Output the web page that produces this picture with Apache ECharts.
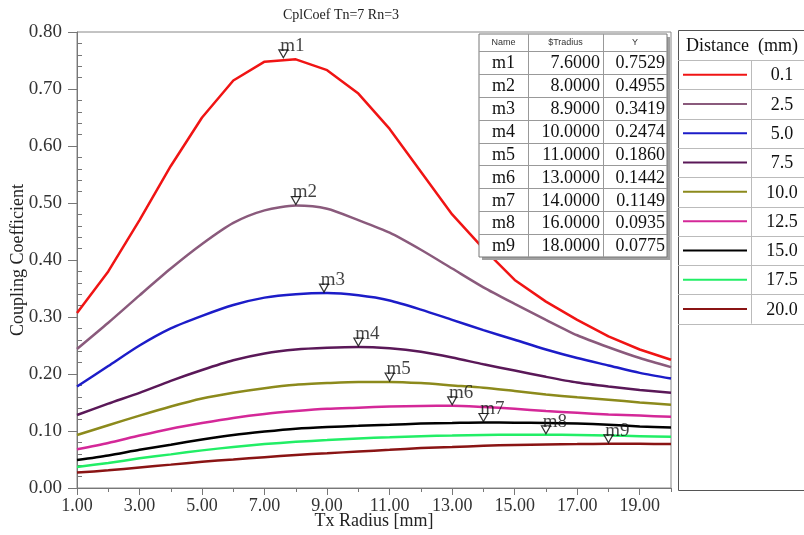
<!DOCTYPE html>
<html>
<head>
<meta charset="utf-8">
<script src="https://cdn.jsdelivr.net/npm/echarts@6/dist/echarts.min.js"></script>
<style>
html,body{margin:0;padding:0;background:#fff;}
#chart{width:804px;height:535px;}
</style>
</head>
<body>
<div id="chart"></div>
<script>
const radius = [1,2,3,4,5,6,7,8,9,10,11,12,13,14,15,16,17,18,19,20];
const distances = ['0.1','2.5','5.0','7.5','10.0','12.5','15.0','17.5','20.0'];
const colors = ['#f01414','#8a5a7c','#1c1cc8','#5a1858','#8c8a1c','#d42898','#000000','#22ee66','#8a1414'];

const d0_1  = [0.307,0.380,0.470,0.565,0.650,0.715,0.748,0.752,0.733,0.692,0.630,0.555,0.480,0.420,0.365,0.327,0.295,0.266,0.243,0.225];
const d2_5  = [0.244,0.290,0.338,0.385,0.428,0.465,0.487,0.4955,0.490,0.470,0.448,0.418,0.385,0.352,0.323,0.295,0.268,0.247,0.228,0.212];
const d5_0  = [0.178,0.214,0.250,0.280,0.302,0.321,0.334,0.340,0.342,0.338,0.329,0.313,0.295,0.277,0.260,0.243,0.228,0.215,0.202,0.192];
const d7_5  = [0.128,0.148,0.167,0.188,0.207,0.224,0.236,0.243,0.246,0.2474,0.245,0.239,0.229,0.217,0.206,0.195,0.185,0.178,0.172,0.167];
const d10_0 = [0.093,0.110,0.127,0.143,0.157,0.167,0.175,0.181,0.184,0.186,0.186,0.184,0.180,0.176,0.170,0.164,0.159,0.155,0.150,0.146];
const d12_5 = [0.068,0.079,0.092,0.104,0.114,0.123,0.130,0.135,0.139,0.141,0.143,0.144,0.1442,0.142,0.139,0.135,0.132,0.129,0.127,0.125];
const d15_0 = [0.049,0.057,0.067,0.076,0.085,0.093,0.099,0.104,0.107,0.109,0.111,0.113,0.114,0.1149,0.1145,0.114,0.113,0.111,0.108,0.106];
const d17_5 = [0.037,0.044,0.052,0.059,0.066,0.072,0.077,0.081,0.084,0.087,0.089,0.091,0.092,0.093,0.0935,0.0935,0.093,0.092,0.091,0.090];
const d20_0 = [0.027,0.031,0.036,0.041,0.046,0.050,0.054,0.058,0.061,0.064,0.067,0.070,0.072,0.074,0.0755,0.0765,0.077,0.0775,0.0775,0.077];
const curves = [d0_1,d2_5,d5_0,d7_5,d10_0,d12_5,d15_0,d17_5,d20_0];

const markerNames = ['m1','m2','m3','m4','m5','m6','m7','m8','m9'];
const markerX = [7.6,8.0,8.9,10.0,11.0,13.0,14.0,16.0,18.0];
const markerY = [0.7529,0.4955,0.3419,0.2474,0.1860,0.1442,0.1149,0.0935,0.0775];

const xLabelValues = [1,3,5,7,9,11,13,15,17,19];
const xMinorTicks = [2,4,6,8,10,12,14,16,18,20];
const yMinorTicks = [];
for (let i = 1; i < 40; i++) { if (i % 5 !== 0) yMinorTicks.push(+(i*0.02).toFixed(2)); }

const SERIF = 'Liberation Serif';

const series = curves.map((arr, k) => ({
  type: 'line',
  name: distances[k],
  data: radius.map((r, i) => [r, arr[i]]),
  showSymbol: false,
  smooth: k === 0 ? false : 0.25,
  lineStyle: {color: colors[k], width: 2.5},
  itemStyle: {color: colors[k]},
  z: 2 + (curves.length - k) * 0.01,
  animation: false
}));

series.push({
  type: 'scatter',
  data: markerX.map((x, i) => ({value: [x, markerY[i]], name: markerNames[i]})),
  symbol: 'triangle',
  symbolRotate: 180,
  symbolSize: [9, 8],
  symbolOffset: [0, -5],
  itemStyle: {color: '#fff', borderColor: '#000', borderWidth: 1.2},
  label: {
    show: true, position: 'top', distance: 0, offset: [9, 6],
    formatter: p => p.name,
    fontFamily: SERIF, fontSize: 19, color: '#111'
  },
  z: 10,
  animation: false
});

// marker table
const graphics = [];
const tX = 479, tY = 34, tW = 188, tH = 223, headH = 17;
const rowH = (tH - headH) / markerNames.length;
const c1 = 528, c2 = 603;
graphics.push({type:'rect', shape:{x:tX+3,y:tY+3,width:tW,height:tH}, style:{fill:'#a0a0a0'}, z:20});
graphics.push({type:'rect', shape:{x:tX,y:tY,width:tW,height:tH}, style:{fill:'#fff',stroke:'#777',lineWidth:1}, z:21});
for (let i = 0; i < markerNames.length; i++) {
  const y = Math.round(tY + headH + i*rowH) + 0.5;
  graphics.push({type:'line', shape:{x1:tX,y1:y,x2:tX+tW,y2:y}, style:{stroke:'#999',lineWidth:1}, z:22});
}
[c1,c2].forEach(cx => graphics.push({type:'line', shape:{x1:cx+0.5,y1:tY,x2:cx+0.5,y2:tY+tH}, style:{stroke:'#999',lineWidth:1}, z:22}));
[['Name',(tX+c1)/2],['$Tradius',(c1+c2)/2],['Y',(c2+tX+tW)/2]].forEach(h => graphics.push({
  type:'text', x:h[1], y:tY+headH/2+0.5,
  style:{text:h[0], fontFamily:'Liberation Sans', fontSize:9, fill:'#333', align:'center', verticalAlign:'middle'}, z:23
}));
markerNames.forEach((n, i) => {
  const cy = tY + headH + (i+0.5)*rowH + 1;
  graphics.push({type:'text', x:(tX+c1)/2, y:cy, style:{text:n, fontFamily:SERIF, fontSize:18, fill:'#111', align:'center', verticalAlign:'middle'}, z:23});
  graphics.push({type:'text', x:c2-3, y:cy, style:{text:markerX[i].toFixed(4), fontFamily:SERIF, fontSize:18, fill:'#111', align:'right', verticalAlign:'middle'}, z:23});
  graphics.push({type:'text', x:tX+tW-2, y:cy, style:{text:markerY[i].toFixed(4), fontFamily:SERIF, fontSize:18, fill:'#111', align:'right', verticalAlign:'middle'}, z:23});
});

// legend table
const lX = 678, lY = 30, lBottom = 490, lHead = 30, lRow = 29.3, lCol = 751;
graphics.push({type:'rect', shape:{x:lX+0.5,y:lY+0.5,width:160,height:lBottom-lY}, style:{fill:'#fff',stroke:'#555',lineWidth:1}, z:20});
graphics.push({type:'text', x:lX+8, y:lY+lHead/2+1, style:{text:'Distance  (mm)', fontFamily:SERIF, fontSize:18, fill:'#111', verticalAlign:'middle'}, z:23});
for (let i = 0; i <= distances.length; i++) {
  const y = Math.round(lY + lHead + i*lRow) + 0.5;
  graphics.push({type:'line', shape:{x1:lX,y1:y,x2:804,y2:y}, style:{stroke:'#bbb',lineWidth:1}, z:22});
}
graphics.push({type:'line', shape:{x1:lCol+0.5,y1:lY+lHead,x2:lCol+0.5,y2:lY+lHead+distances.length*lRow}, style:{stroke:'#bbb',lineWidth:1}, z:22});
distances.forEach((d, i) => {
  const cy = lY + lHead + (i+0.5)*lRow;
  graphics.push({type:'line', shape:{x1:683,y1:cy,x2:747,y2:cy}, style:{stroke:colors[i],lineWidth:2}, z:23});
  graphics.push({type:'text', x:782, y:cy+1, style:{text:d, fontFamily:SERIF, fontSize:18, fill:'#111', align:'center', verticalAlign:'middle'}, z:23});
});

const chart = echarts.init(document.getElementById('chart'), null, {renderer:'canvas'});
chart.setOption({
  animation: false,
  backgroundColor: '#fff',
  title: {
    text: 'CplCoef Tn=7 Rn=3', left: 336, top: 3, textAlign: 'center',
    textStyle: {fontFamily: SERIF, fontSize: 14, fontWeight: 'normal', color: '#222'}
  },
  grid: {left: 77, right: 133, top: 32, bottom: 47, show: true, borderColor: '#888', borderWidth: 1, backgroundColor: 'transparent', containLabel: false, outerBoundsMode: 'none'},
  xAxis: [{
    type: 'value', min: 1, max: 20,
    name: 'Tx Radius [mm]', nameLocation: 'middle', nameGap: 24, nameMoveOverlap: false,
    nameTextStyle: {fontFamily: SERIF, fontSize: 18, color: '#222'},
    axisLine: {show: true, lineStyle: {color: '#777'}},
    axisTick: {show: true, customValues: xLabelValues, length: 7, lineStyle: {color: '#777'}},
    axisLabel: {customValues: xLabelValues, formatter: v => v.toFixed(2), fontFamily: SERIF, fontSize: 18, color: '#333', margin: 9},
    splitLine: {show: false}
  }, {
    type: 'value', min: 1, max: 20, position: 'bottom',
    axisLine: {show: false},
    axisTick: {show: true, customValues: xMinorTicks, length: 4, lineStyle: {color: '#777'}},
    axisLabel: {show: false},
    splitLine: {show: false}
  }],
  yAxis: [{
    type: 'value', min: 0, max: 0.8, interval: 0.1,
    name: 'Coupling Coefficient', nameLocation: 'middle', nameGap: 50, nameRotate: 90, nameMoveOverlap: false,
    nameTextStyle: {fontFamily: SERIF, fontSize: 18, color: '#222'},
    axisLine: {show: true, lineStyle: {color: '#777'}},
    axisTick: {show: true, length: 9, lineStyle: {color: '#777'}},
    axisLabel: {formatter: v => v.toFixed(2), fontFamily: SERIF, fontSize: 19, color: '#333', margin: 15},
    splitLine: {show: false}
  }, {
    type: 'value', min: 0, max: 0.8, position: 'left',
    axisLine: {show: false},
    axisTick: {show: true, inside: true, customValues: yMinorTicks, length: 5, lineStyle: {color: '#777'}},
    axisLabel: {show: false},
    splitLine: {show: false}
  }],
  series: series,
  graphic: graphics
});
</script>
</body>
</html>
